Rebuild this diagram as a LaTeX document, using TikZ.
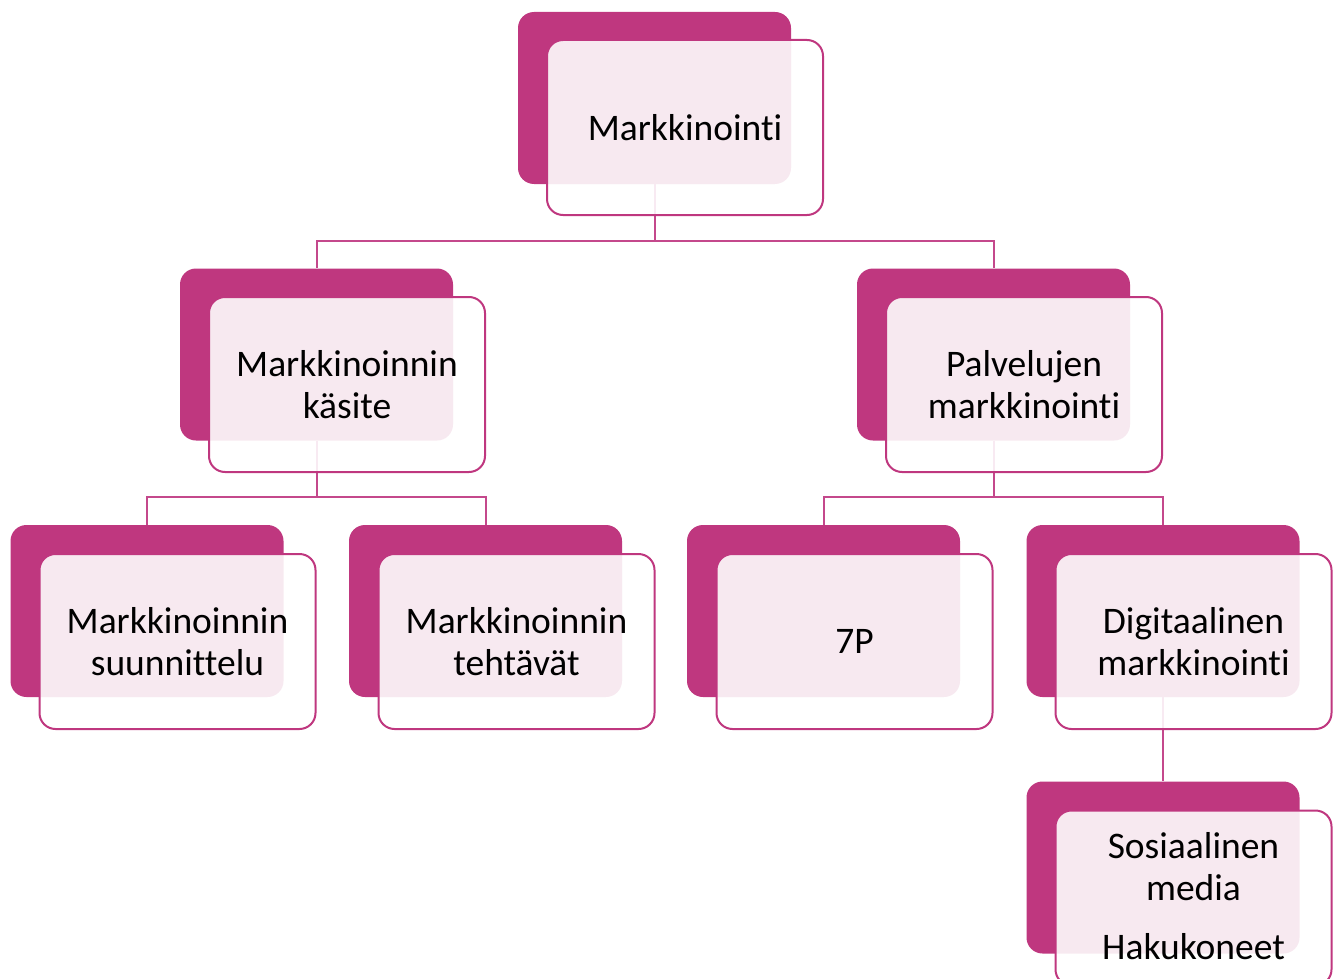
\documentclass[tikz,border=0pt]{standalone}
\usepackage{fontspec}
\setmainfont{Carlito}[Ligatures={NoCommon}]
\definecolor{mag}{HTML}{BF377F}
\definecolor{conn}{HTML}{C4488C}
\tikzset{
  backbox/.style={draw=none, fill=mag, rounded corners=16pt, minimum width=273pt, minimum height=172pt, inner sep=0pt},
  frontbox/.style={draw=mag, line width=2pt, fill=white, fill opacity=0.89, text opacity=1, rounded corners=16pt, minimum width=276pt, minimum height=175pt, inner sep=0pt, align=center, font=\fontsize{37.5pt}{42pt}\selectfont},
  link/.style={draw=conn, line width=2pt}
}
\begin{document}
\begin{tikzpicture}[x=1pt,y=-1pt]
\useasboundingbox (0,0) rectangle (1336,979);
\clip (0,0) rectangle (1336,979);
% back boxes
\node[backbox] (b0) at (654.5,98) {};
\node[backbox] (b1) at (316.5,354.5) {};
\node[backbox] (b2) at (993.5,354.5) {};
\node[backbox] (b3) at (147,611) {};
\node[backbox] (b4) at (485.5,611) {};
\node[backbox] (b5) at (823.5,611) {};
\node[backbox] (b6) at (1163,611) {};
\node[backbox] (b7) at (1163,867.5) {};
% connectors
\coordinate (j0) at (654.5,241);
\coordinate (j1) at (316.5,497);
\coordinate (j2) at (993.5,497);
\draw[link] (b0.south) -- (j0);
\draw[link] (j0) -| (b1.north);
\draw[link] (j0) -| (b2.north);
\draw[link] (b1.south) -- (j1);
\draw[link] (j1) -| (b3.north);
\draw[link] (j1) -| (b4.north);
\draw[link] (b2.south) -- (j2);
\draw[link] (j2) -| (b5.north);
\draw[link] (j2) -| (b6.north);
\draw[link] (b6.south) -- (b7.north);
% front boxes
\node[frontbox] (f0) at (685,127.5) {Markkinointi};
\node[frontbox] (f1) at (347,384.5) {Markkinoinnin\\käsite};
\node[frontbox] (f2) at (1024,384.5) {Palvelujen\\markkinointi};
\node[frontbox] (f3) at (177.5,641.5) {Markkinoinnin\\suunnittelu};
\node[frontbox] (f4) at (516.5,641.5) {Markkinoinnin\\tehtävät};
\node[frontbox] (f5) at (854.5,641.5) {7P};
\node[frontbox] (f6) at (1193.5,641.5) {Digitaalinen\\markkinointi};
\node[frontbox] (f7) at (1193.5,898) {};
\node[align=center, font=\fontsize{37.5pt}{42pt}\selectfont, inner sep=0pt] (t7) at (1193.5,896) {Sosiaalinen\\media\\[17pt]Hakukoneet};
\end{tikzpicture}
\end{document}
